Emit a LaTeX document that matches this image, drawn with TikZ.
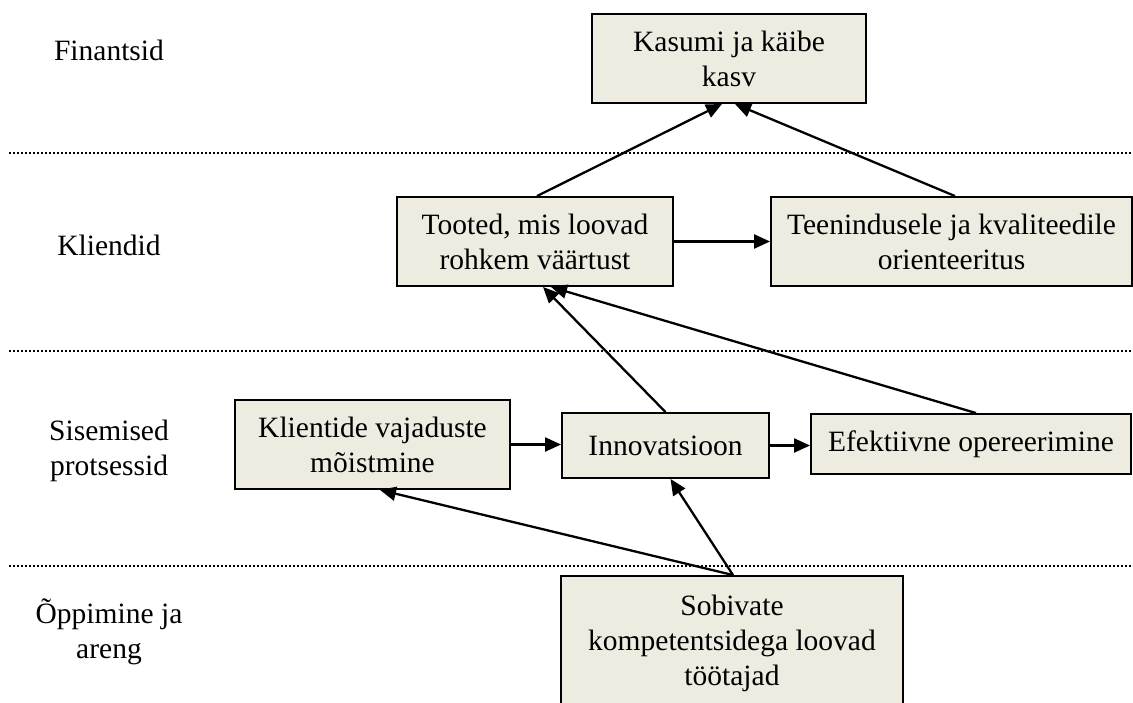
\documentclass[tikz,border=0pt]{standalone}
\usepackage{fontspec}
\setmainfont{Liberation Serif}
\usetikzlibrary{arrows.meta}
\definecolor{boxfill}{HTML}{EEECE1}
\begin{document}
\begin{tikzpicture}[x=1pt,y=-1pt,
  box/.style={draw=black, line width=1.9pt, fill=boxfill, align=center, inner sep=0pt,
              font=\fontsize{29.5}{35}\selectfont},
  lbl/.style={align=center, inner sep=0pt, font=\fontsize{29.5}{35}\selectfont},
  arr/.style={line width=2.3pt, -{Triangle[length=16pt,width=14pt]}},
  sepline/.style={line width=1.5pt, dash pattern=on 1.5pt off 2.5pt}]
\useasboundingbox (0,0) rectangle (1133,702);
\clip (0,0) rectangle (1133,702);

% layer separators
\draw[sepline] (9,153) -- (1133,153);
\draw[sepline] (9,351) -- (1133,351);
\draw[sepline] (9,566) -- (1133,566);

% layer labels
\node[lbl] (L1) at (109,50) {Finantsid};
\node[lbl] (L2) at (109,245) {Kliendid};
\node[lbl] (L3) at (109,451) {Sisemised\\protsessid};
\node[lbl] (L4) at (109,632) {Õppimine ja\\areng};

% boxes
\node[box, minimum width=274pt, minimum height=89pt] (K) at (729,58.5) {Kasumi ja käibe\\kasv};
\node[box, minimum width=276pt, minimum height=89pt] (T) at (535,241.5) {Tooted, mis loovad\\rohkem väärtust};
\node[box, minimum width=361pt, minimum height=89pt] (S) at (951.5,241.5) {Teenindusele ja kvaliteedile\\orienteeritus};
\node[box, minimum width=275pt, minimum height=89pt] (V) at (372.5,444.5) {Klientide vajaduste\\mõistmine};
\node[box, minimum width=207pt, minimum height=65pt] (I) at (665.5,445.5) {Innovatsioon};
\node[box, minimum width=320pt, minimum height=60pt] (E) at (971,444) {Efektiivne opereerimine};
\node[box, minimum width=342pt, minimum height=134pt] (C) at (732,643) {Sobivate\\kompetentsidega loovad\\töötajad};

% connectors
\draw[arr] ([xshift=2pt]T.north) -- ([xshift=-7pt]K.south);
\draw[arr] ([xshift=3.5pt]S.north) -- ([xshift=6pt]K.south);
\draw[arr] (T.east) -- (S.west);
\draw[arr] (I.north) -- ([xshift=8pt]T.south);
\draw[arr] ([xshift=5pt]E.north) -- ([xshift=16pt]T.south);
\draw[arr] (V.east) -- (V.east -| I.west);
\draw[arr] (I.east) -- (I.east -| E.west);
\draw[arr] ([xshift=1pt]C.north) -- ([xshift=7.5pt]V.south);
\draw[arr] ([xshift=1pt]C.north) -- ([xshift=5pt]I.south);
\end{tikzpicture}
\end{document}
